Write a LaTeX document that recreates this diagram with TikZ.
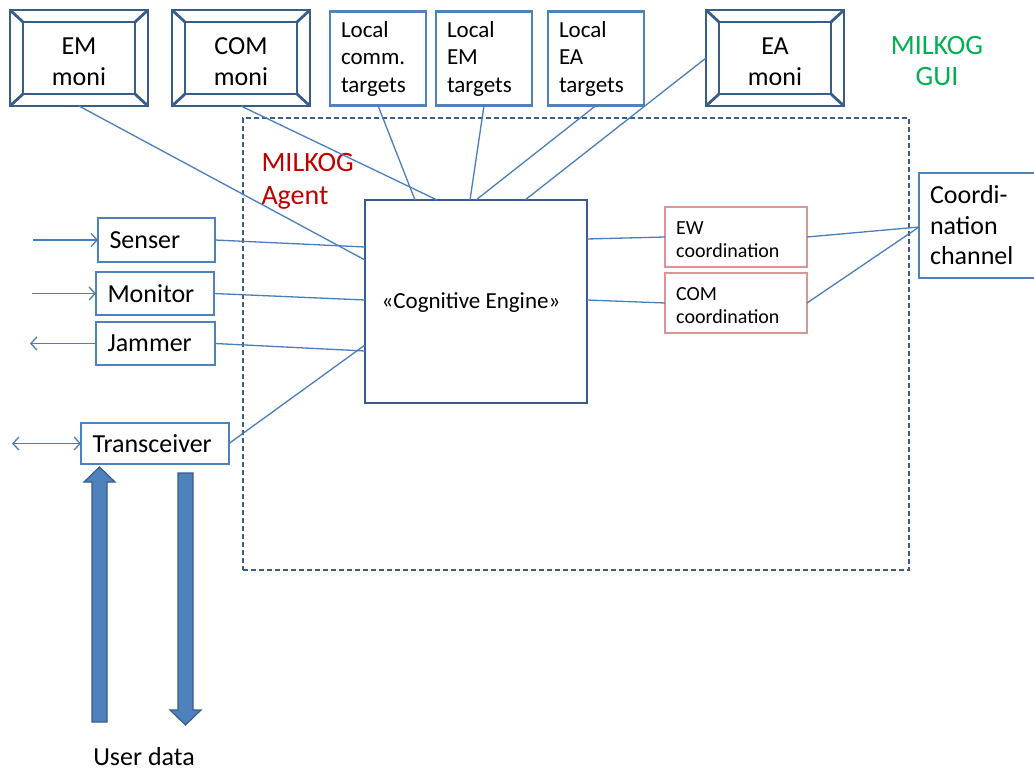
\documentclass[tikz,border=0pt]{standalone}
\usepackage{fontspec}
\setmainfont{Carlito}
\usetikzlibrary{calc,arrows.meta}

\definecolor{monidark}{RGB}{56,93,138}
\definecolor{boxblue}{RGB}{79,129,189}
\definecolor{linkblue}{RGB}{74,126,187}
\definecolor{coordpink}{RGB}{217,150,148}
\definecolor{guigreen}{RGB}{0,176,80}
\definecolor{agentred}{RGB}{192,0,0}

\tikzset{
  big/.style={font=\fontsize{26}{30.5}\selectfont},
  moni/.style={draw=monidark, line width=2.8pt, outer sep=0pt, minimum width=138pt,
    minimum height=96pt, inner sep=0pt},
  monitext/.style={align=center, big, yshift=-3.5pt},
  moniline/.style={draw=monidark, line width=2.8pt, line join=miter},
  target/.style={draw=boxblue, line width=2.5pt, outer sep=0pt, minimum height=94pt,
    inner xsep=11pt, text width=74pt, align=left, font=\fontsize{23}{27.5}\selectfont},
  iobox/.style={draw=boxblue, line width=2.5pt, outer sep=0pt, inner xsep=11.5pt,
    align=left, anchor=north west, big},
  coordbox/.style={draw=coordpink, line width=2.2pt, outer sep=0pt, minimum width=142pt,
    minimum height=60pt},
  coordtext/.style={anchor=west, inner xsep=11pt, align=left,
    font=\fontsize{20}{23}\selectfont, yshift=-3pt},
  engine/.style={draw=monidark, line width=2.2pt, outer sep=0pt, minimum width=222pt,
    minimum height=203pt},
  agentbox/.style={draw=monidark, line width=1.5pt, dash pattern=on 5pt off 3pt,
    outer sep=0pt, minimum width=666pt, minimum height=452pt, anchor=north west},
  conn/.style={draw=linkblue, line width=1.3pt},
  tip/.style={-{Straight Barb[length=6pt,width=13pt,line width=1.3pt]}},
  bothtip/.style={{Straight Barb[length=6pt,width=13pt,line width=1.3pt]}-{Straight Barb[length=6pt,width=13pt,line width=1.3pt]}},
  blockarrow/.style={fill=boxblue, draw=monidark, line width=1.2pt, line join=miter},
}

% framed monitor display: outer box, inner box and bevelled corners
\newcommand\monibox[3]{%
  \node[moni] (#1) at (#2) {};
  \node[monitext] (#1-text) at (#1.center) {#3};
  \draw[moniline] ([shift={(13,12)}]#1.north west) rectangle ([shift={(-13,-12)}]#1.south east);
  \draw[moniline] (#1.north west) -- ++(13,12);
  \draw[moniline] (#1.north east) -- ++(-13,12);
  \draw[moniline] (#1.south west) -- ++(13,-12);
  \draw[moniline] (#1.south east) -- ++(-13,-12);
}

\begin{document}
\begin{tikzpicture}[x=1pt,y=-1pt]
\clip (0,0) rectangle (1034,771);
\useasboundingbox (0,0) rectangle (1034,771);

% agent container
\node[agentbox] (agent) at (243,118) {};
\node[anchor=west, align=left, text=agentred, font=\fontsize{28}{33}\selectfont] (agentlbl) at (258,181) {MILKOG\\Agent};

% GUI row
\monibox{em}{79,58}{EM\\moni}
\monibox{com}{241,58}{COM\\moni}
\monibox{ea}{775,58}{EA\\moni}
\node[target] (lct) at (378,58.5) {Local\\comm.\\targets};
\node[target] (lem) at (484,58.5) {Local\\EM\\targets};
\node[target] (lea) at (596,58.5) {Local\\EA\\targets};
\node[align=center, text=guigreen, font=\fontsize{28}{31}\selectfont] (gui) at (937,61) {MILKOG\\GUI};

% cognitive engine and coordination
\node[engine] (cog) at (476,301.5) {};
\node[font=\fontsize{23}{27}\selectfont] (coglbl) at (471,302.5) {«Cognitive Engine»};
\node[coordbox] (ewc) at (736,237) {};
\node[coordtext] (ewc-text) at (ewc.west) {EW\\coordination};
\node[coordbox] (comc) at (736,303) {};
\node[coordtext] (comc-text) at (comc.west) {COM\\coordination};
\node[draw=boxblue, line width=2.5pt, outer sep=0pt, anchor=north west, minimum width=140pt,
  minimum height=105pt, inner xsep=10pt, text width=118pt, align=left, big] (cch) at (919,173)
  {Coordi-\\nation\\channel};

% radio front ends
\node[iobox, minimum width=117pt, minimum height=44pt, text width=94pt] (sen) at (98,218) {Senser};
\node[iobox, minimum width=118pt, minimum height=43pt, text width=95pt] (mon) at (96,272) {Monitor};
\node[iobox, minimum width=119pt, minimum height=43pt, text width=96pt] (jam) at (96,322) {Jammer};
\node[iobox, minimum width=148pt, minimum height=41pt, text width=125pt] (trx) at (81,423) {Transceiver};

% external ends
\coordinate (senin) at (33,240);
\coordinate (monin) at (32,293.5);
\coordinate (jamout) at (30,343.5);
\coordinate (trxio) at (12,443.5);
\draw[conn,tip] (senin) -- (sen.west);
\draw[conn,tip] (monin) -- (mon.west);
\draw[conn,tip] (jam.west) -- (jamout);
\draw[conn,bothtip] (trxio) -- (trx.west);

% links into the engine
\draw[conn] (em.south) -- ($(cog.north west)+(0,60)$);
\draw[conn] (com.south) -- ($(cog.north west)+(72,0)$);
\draw[conn] (lct.south) -- ($(cog.north west)+(50,0)$);
\draw[conn] (lem.south) -- ($(cog.north west)+(105,0)$);
\draw[conn] (lea.south) -- ($(cog.north west)+(111,0)$);
\draw[conn] (ea.west) -- ($(cog.north west)+(160,0)$);
\draw[conn] (sen.east) -- ($(cog.north west)+(0,47)$);
\draw[conn] (mon.east) -- ($(cog.north west)+(0,100)$);
\draw[conn] (jam.east) -- ($(cog.north west)+(0,151)$);
\draw[conn] (trx.east) -- ($(cog.north west)+(0,145)$);
\draw[conn] ($(cog.north east)+(0,39)$) -- (ewc.west);
\draw[conn] ($(cog.north east)+(0,100)$) -- (comc.west);
\coordinate (cchin) at ($(cch.north west)+(0,54)$);
\draw[conn] (ewc.east) -- (cchin);
\draw[conn] (comc.east) -- (cchin);

% user data flow
\draw[blockarrow] (92,722) -- (92,482) -- (84,482) -- (99.5,467) -- (115,482) -- (107,482) -- (107,722) -- cycle;
\draw[blockarrow] (178,473) -- (178,710) -- (170,710) -- (185.5,725) -- (201,710) -- (193,710) -- (193,473) -- cycle;
\node[big] (udata) at (144,757) {User data};
\end{tikzpicture}
\end{document}
